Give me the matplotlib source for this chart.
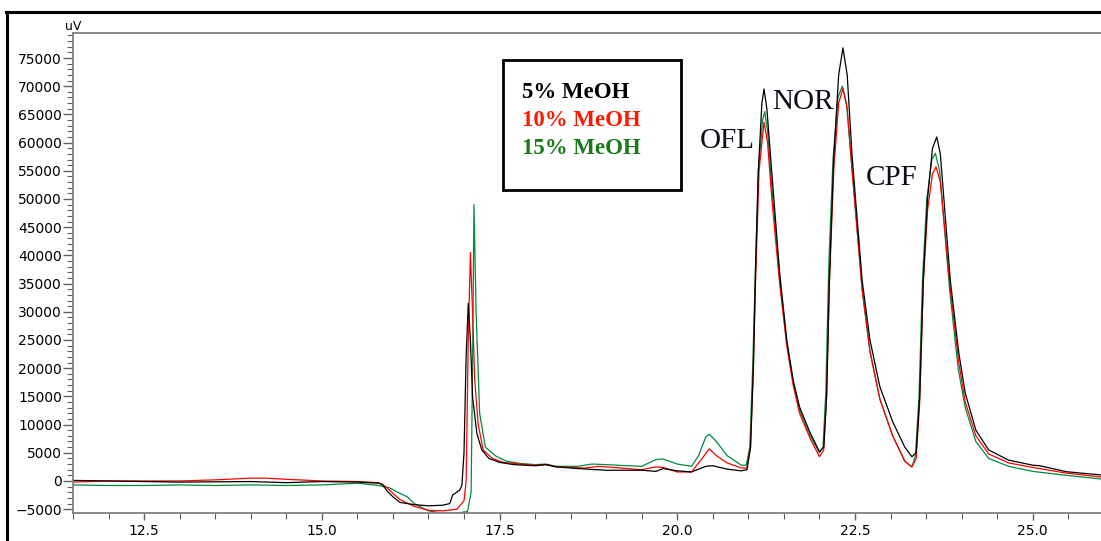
import matplotlib
matplotlib.use("Agg")
import matplotlib.pyplot as plt
from matplotlib.patches import Rectangle
from matplotlib.ticker import MultipleLocator

# retention time (min) and signal (uV)
t_5 = [11.5, 12.0, 12.5, 13.0, 13.5, 14.0, 14.5, 15.0, 15.5, 15.8, 15.85, 15.92, 16.0, 16.1,
       16.3, 16.5, 16.7, 16.8, 16.84, 16.94, 16.97, 17.0, 17.03, 17.06, 17.09, 17.12, 17.18,
       17.25, 17.35, 17.5, 17.7, 18.0, 18.15, 18.3, 18.6, 19.0, 19.5, 19.7, 19.8, 20.0, 20.2,
       20.4, 20.5, 20.7, 20.9, 20.98, 21.03, 21.07, 21.1, 21.14, 21.19, 21.22, 21.26, 21.33,
       21.44, 21.54, 21.63, 21.72, 21.87, 22.0, 22.06, 22.1, 22.14, 22.2, 22.27, 22.33, 22.39,
       22.46, 22.6, 22.71, 22.85, 23.03, 23.2, 23.3, 23.36, 23.41, 23.46, 23.52, 23.59, 23.65,
       23.7, 23.84, 23.96, 24.05, 24.2, 24.38, 24.66, 25.0, 25.1, 25.47, 25.96]
y_5 = [100, 0, -100, -200, -150, -100, -300, -100, -200, -400, -600, -1800, -2800, -3800,
       -4200, -4400, -4300, -4000, -2500, -1600, -800, 5000, 22000, 31500, 25000, 15000, 8500,
       5500, 4000, 3300, 2900, 2700, 2900, 2500, 2200, 1900, 1900, 1700, 2200, 1800, 1600,
       2600, 2700, 2100, 1800, 2000, 6000, 20000, 37000, 55000, 67000, 69500, 66000, 54600,
       36900, 25000, 17900, 13100, 8500, 5200, 6000, 15000, 36000, 57000, 72000, 76800, 72000,
       57400, 35600, 25000, 16700, 10500, 6000, 4300, 5000, 15000, 35600, 50000, 59000, 61000,
       58000, 35600, 22700, 15600, 9000, 5500, 3700, 2800, 2700, 1650, 1060]

t_10 = [11.5, 12.0, 12.5, 13.0, 13.5, 14.0, 14.2, 14.5, 15.0, 15.5, 15.8, 15.9, 16.0, 16.1,
        16.3, 16.5, 16.7, 16.9, 17.0, 17.03, 17.06, 17.09, 17.12, 17.15, 17.2, 17.27, 17.4,
        17.55, 17.8, 18.0, 18.15, 18.3, 18.7, 18.9, 19.1, 19.5, 19.7, 19.8, 20.0, 20.2, 20.35,
        20.45, 20.55, 20.7, 20.9, 20.98, 21.03, 21.07, 21.1, 21.15, 21.22, 21.27, 21.33, 21.44,
        21.54, 21.63, 21.72, 21.87, 22.0, 22.06, 22.1, 22.14, 22.2, 22.27, 22.33, 22.39, 22.46,
        22.6, 22.71, 22.85, 23.03, 23.2, 23.3, 23.36, 23.41, 23.46, 23.52, 23.59, 23.64, 23.7,
        23.84, 23.96, 24.05, 24.2, 24.38, 24.66, 25.0, 25.47, 25.96]
y_10 = [-200, 0, 0, 0, 200, 500, 500, 300, 0, -100, -300, -1000, -2200, -3300,
        -4500, -5200, -5300, -5000, -3500, 0, 25000, 40500, 30000, 18000, 10000, 5500, 4000,
        3300, 3000, 2800, 2900, 2500, 2300, 2600, 2400, 2000, 2500, 2400, 1600, 1600, 4000,
        5700, 4500, 3200, 2300, 2300, 6000, 20000, 35000, 55000, 63600, 60000, 50000, 35000,
        24000, 17000, 12000, 7500, 4300, 5500, 15000, 35000, 55000, 67000, 69600, 66000, 55000,
        34000, 23000, 14500, 8000, 3500, 2500, 4000, 14000, 35000, 48000, 54500, 55700, 53000,
        34000, 21000, 14000, 8000, 4800, 3200, 2400, 1400, 700]

t_15 = [11.5, 12.0, 12.5, 13.0, 13.5, 14.0, 14.5, 15.0, 15.5, 15.8, 15.95, 16.1, 16.2, 16.3,
        16.5, 16.7, 16.9, 17.05, 17.1, 17.12, 17.14, 17.17, 17.22, 17.3, 17.45, 17.6, 17.8,
        18.0, 18.15, 18.3, 18.6, 18.8, 19.0, 19.3, 19.5, 19.7, 19.8, 20.0, 20.2, 20.3, 20.4,
        20.45, 20.55, 20.7, 20.9, 20.97, 21.02, 21.06, 21.1, 21.14, 21.2, 21.23, 21.27, 21.33,
        21.44, 21.54, 21.63, 21.72, 21.87, 22.0, 22.05, 22.09, 22.13, 22.19, 22.26, 22.32,
        22.38, 22.46, 22.6, 22.71, 22.85, 23.03, 23.2, 23.3, 23.35, 23.4, 23.45, 23.51, 23.58,
        23.63, 23.69, 23.83, 23.95, 24.05, 24.2, 24.38, 24.66, 25.0, 25.47, 25.96]
y_15 = [-700, -800, -800, -700, -800, -700, -800, -700, -400, -800, -1200, -2200, -2800, -4000,
        -5300, -5700, -5700, -5400, -2000, 20000, 49000, 30000, 12000, 6000, 4400, 3500, 3100,
        2900, 3000, 2600, 2600, 3000, 2900, 2700, 2600, 3800, 3900, 3000, 2600, 4500, 7800,
        8300, 7000, 4500, 2800, 2800, 6000, 20000, 38000, 55000, 64000, 65500, 62000, 52000,
        36000, 24500, 17500, 12500, 8000, 5000, 6000, 16000, 38000, 57000, 68000, 70000,
        67000, 55000, 34000, 23000, 14500, 8000, 3500, 2500, 4500, 15000, 36000, 50000, 57000,
        58100, 55000, 34000, 20000, 13000, 7000, 4000, 2600, 1700, 1000, 350]

legend_labels = ["5% MeOH", "10% MeOH", "15% MeOH"]
legend_colors = ["#000000", "#ff1a00", "#1a7a1a"]
peak_labels = ["OFL", "NOR", "CPF"]
peak_label_pos = [(20.70, 60300), (21.77, 67200), (23.02, 53700)]

fig = plt.figure(figsize=(11.01, 5.41), dpi=100)
ax = fig.add_axes([0.0663, 0.0518, 0.9337, 0.8872])

ax.plot(t_15, y_15, color="#008a3e", lw=0.9)
ax.plot(t_10, y_10, color="#ff0000", lw=0.9)
ax.plot(t_5, y_5, color="#000000", lw=0.9)

ax.set_xlim(11.5, 25.96)
ax.set_ylim(-5674, 79433)
ax.xaxis.set_major_locator(MultipleLocator(2.5))
ax.xaxis.set_minor_locator(MultipleLocator(0.5))
ax.yaxis.set_major_locator(MultipleLocator(5000))
ax.yaxis.set_minor_locator(MultipleLocator(1000))
ax.xaxis.set_major_formatter(matplotlib.ticker.FormatStrFormatter("%.1f"))

for s in ["left", "bottom", "top"]:
    ax.spines[s].set_color("#808080")
    ax.spines[s].set_linewidth(1.3)
ax.spines["right"].set_visible(False)

ax.tick_params(axis="y", which="major", length=7, width=1, color="#606060", pad=1,
               labelsize=10, labelcolor="black")
ax.tick_params(axis="y", which="minor", length=4, width=0.8, color="#606060")
ax.tick_params(axis="x", which="major", length=5, width=1, color="#606060", pad=3,
               labelsize=10, labelcolor="black")
ax.tick_params(axis="x", which="minor", length=4, width=0.8, color="#606060")
for lab in ax.get_xticklabels() + ax.get_yticklabels():
    lab.set_family("DejaVu Sans")

ax.text(0.0, 1.0, "uV", transform=ax.transAxes, fontsize=9, ha="center", va="bottom")

# legend box drawn as text in a frame
box = Rectangle((0.418, 0.673), 0.173, 0.271, transform=ax.transAxes,
                fill=False, edgecolor="black", lw=2)
ax.add_patch(box)
for i, (lab, col) in enumerate(zip(legend_labels, legend_colors)):
    ax.text(17.82, 68800 - i * 4900, lab, color=col, fontsize=16.5, fontweight="bold",
            family="Liberation Serif", va="center", ha="left")

for lab, (x, y) in zip(peak_labels, peak_label_pos):
    ax.text(x, y, lab, fontsize=21, family="Liberation Serif", color="#0d0d1a",
            ha="center", va="center")

# outer frame of the figure (left and top edges)
fig.add_artist(plt.Line2D([0.0064, 0.0064], [-0.01, 0.9778], transform=fig.transFigure,
                          color="black", lw=2.2))
fig.add_artist(plt.Line2D([0.0055, 1.01], [0.9778, 0.9778], transform=fig.transFigure,
                          color="black", lw=2.2))

fig.savefig("out.png", dpi=100)
